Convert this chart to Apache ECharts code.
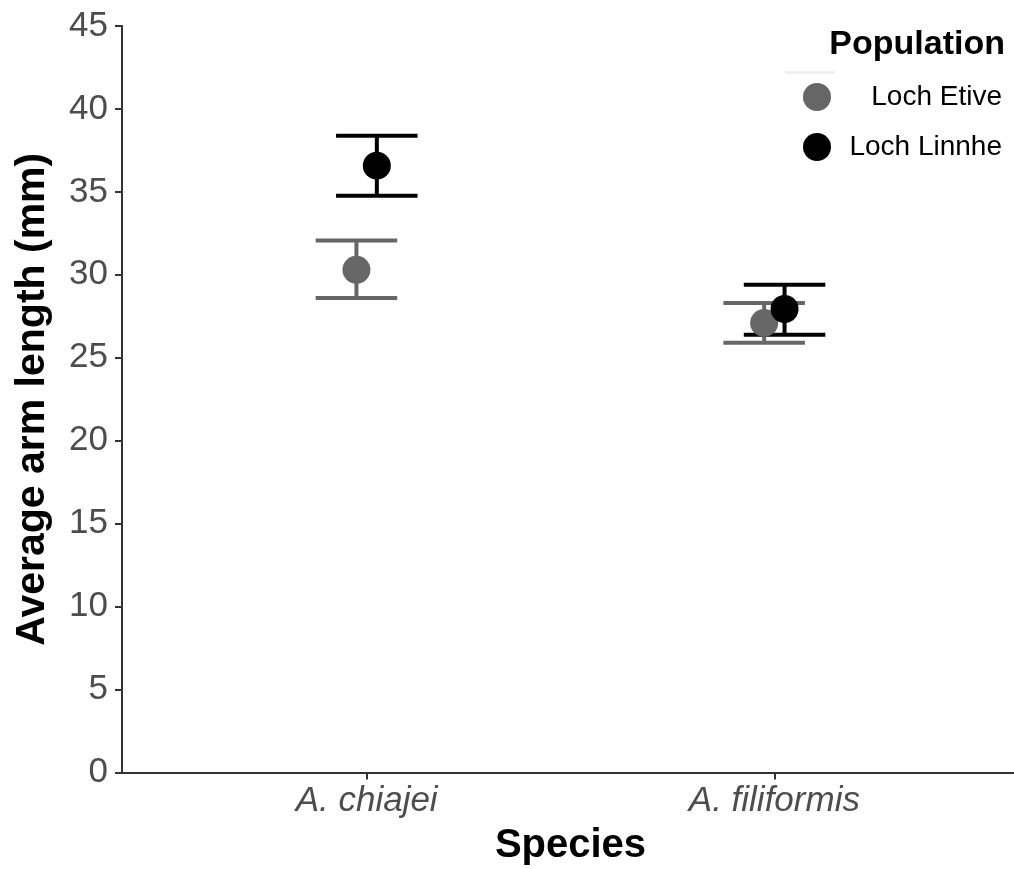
<!DOCTYPE html>
<html>
<head>
<meta charset="utf-8">
<script src="https://cdn.jsdelivr.net/npm/echarts@6/dist/echarts.min.js"></script>
<style>
html,body{margin:0;padding:0;background:#fff;}
#chart{width:1014px;height:869px;}
</style>
</head>
<body>
<div id="chart"></div>
<script>
// ---- data ----
const categories = ['A. chiajei', 'A. filiformis'];
const populations = ['Loch Etive', 'Loch Linnhe'];
const etiveMean = [30.3, 27.1];
const etiveLow = [28.6, 25.9];
const etiveHigh = [32.07, 28.3];
const linnheMean = [36.58, 27.94];
const linnheLow = [34.77, 26.39];
const linnheHigh = [38.39, 29.4];
const yTicks = [0, 5, 10, 15, 20, 25, 30, 35, 40, 45];

// ---- layout / style ----
const colors = ['#666666', '#000000'];
const dodge = 0.05;      // position dodge (category units)
const barWidth = 0.2;    // errorbar cap width (category units)
const font = 'Liberation Sans, Arial, Helvetica, sans-serif';

const groups = [
  {name: populations[0], mean: etiveMean, low: etiveLow, high: etiveHigh, off: -dodge / 2, color: colors[0]},
  {name: populations[1], mean: linnheMean, low: linnheLow, high: linnheHigh, off: dodge / 2, color: colors[1]}
];

const series = [];
groups.forEach(g => {
  series.push({
    type: 'custom',
    name: g.name + ' err',
    silent: true,
    z: 2,
    data: categories.map((c, i) => [i + 1 + g.off, g.low[i], g.high[i]]),
    renderItem: function (params, api) {
      const x = api.value(0);
      const lo = api.coord([x, api.value(1)]);
      const hi = api.coord([x, api.value(2)]);
      const l = api.coord([x - barWidth / 2, api.value(1)])[0];
      const r = api.coord([x + barWidth / 2, api.value(1)])[0];
      const st = {stroke: g.color, lineWidth: 4, lineCap: 'butt'};
      return {
        type: 'group',
        children: [
          {type: 'line', shape: {x1: lo[0], y1: lo[1], x2: hi[0], y2: hi[1]}, style: st},
          {type: 'line', shape: {x1: l, y1: lo[1], x2: r, y2: lo[1]}, style: st},
          {type: 'line', shape: {x1: l, y1: hi[1], x2: r, y2: hi[1]}, style: st}
        ]
      };
    }
  });
});
groups.forEach(g => {
  series.push({
    type: 'scatter',
    name: g.name,
    z: 3,
    symbol: 'circle',
    symbolSize: 28,
    itemStyle: {color: g.color, opacity: 1},
    data: categories.map((c, i) => [i + 1 + g.off, g.mean[i]])
  });
});

const chart = echarts.init(document.getElementById('chart'), null, {renderer: 'canvas'});
chart.setOption({
  animation: false,
  backgroundColor: '#ffffff',
  grid: {left: 122, top: 26, width: 897, height: 746.5, containLabel: false, outerBoundsMode: 'none'},
  xAxis: {
    type: 'value',
    min: 0.4,
    max: 2.6,
    name: 'Species',
    nameLocation: 'middle',
    nameGap: 53,
    nameTextStyle: {fontFamily: font, fontWeight: 'bold', fontSize: 40, color: '#000'},
    axisLine: {show: true, onZero: false, lineStyle: {color: '#333333', width: 2}},
    axisTick: {show: true, length: 7, customValues: [1, 2], lineStyle: {color: '#333333', width: 2}},
    axisLabel: {
      customValues: [1, 2],
      margin: 11,
      formatter: v => categories[Math.round(v) - 1],
      fontFamily: font, fontStyle: 'italic', fontSize: 35, color: '#4d4d4d'
    },
    splitLine: {show: false}
  },
  yAxis: {
    type: 'value',
    min: yTicks[0],
    max: yTicks[yTicks.length - 1],
    interval: 5,
    name: 'Average arm length (mm)',
    nameLocation: 'middle',
    nameGap: 69,
    nameRotate: 90,
    nameTextStyle: {fontFamily: font, fontWeight: 'bold', fontSize: 41, color: '#000'},
    axisLine: {show: true, lineStyle: {color: '#333333', width: 2}},
    axisTick: {show: true, length: 7, lineStyle: {color: '#333333', width: 2}},
    axisLabel: {margin: 14, fontFamily: font, fontSize: 35, color: '#4d4d4d'},
    splitLine: {show: false}
  },
  graphic: [
    {type: 'text', x: 1005, y: 45, style: {text: 'Population', font: 'bold 34px ' + font, fill: '#000', textAlign: 'right', textVerticalAlign: 'middle'}},
    {type: 'rect', shape: {x: 785, y: 71, width: 50, height: 3}, style: {fill: '#f0f0f0'}, silent: true},
    {type: 'circle', shape: {cx: 817, cy: 97, r: 14}, style: {fill: colors[0]}},
    {type: 'circle', shape: {cx: 817, cy: 147, r: 14}, style: {fill: colors[1]}},
    {type: 'text', x: 1002, y: 97, style: {text: populations[0], font: '28px ' + font, fill: '#000', textAlign: 'right', textVerticalAlign: 'middle'}},
    {type: 'text', x: 1002, y: 147, style: {text: populations[1], font: '28px ' + font, fill: '#000', textAlign: 'right', textVerticalAlign: 'middle'}}
  ],
  series: series
});
</script>
</body>
</html>
